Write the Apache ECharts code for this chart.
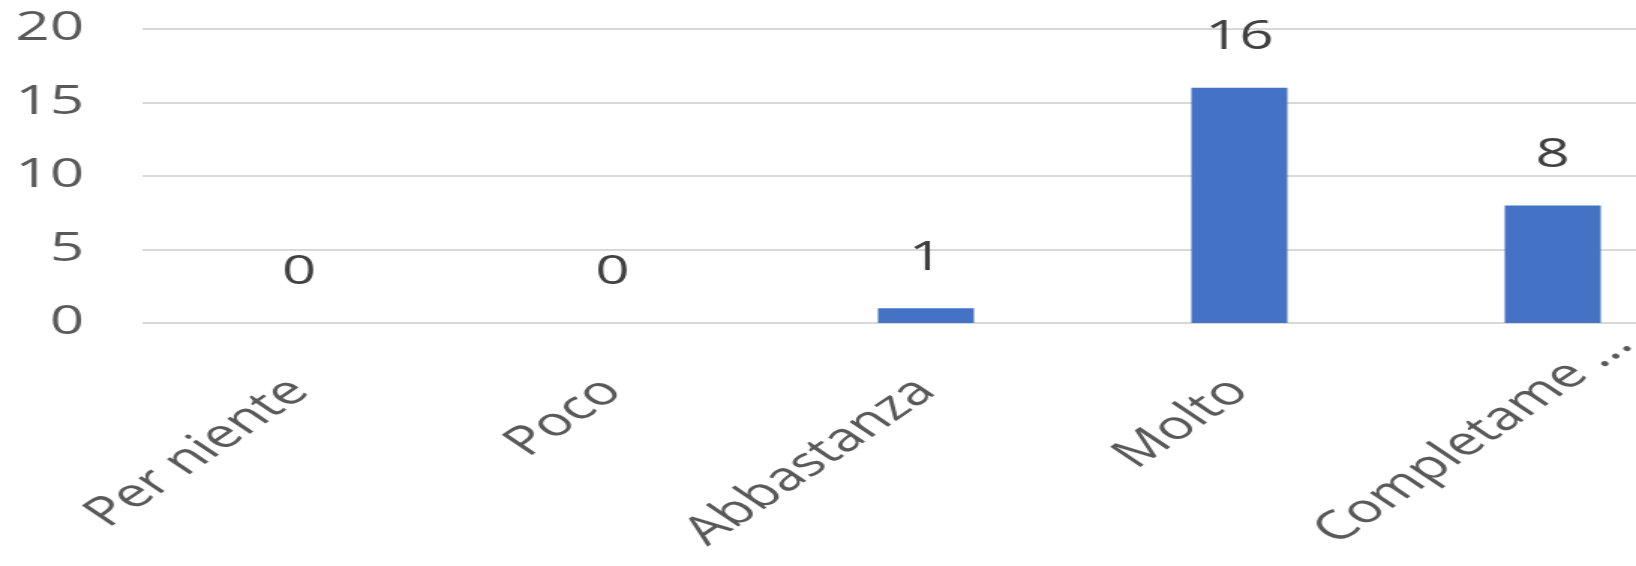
<!DOCTYPE html>
<html>
<head>
<meta charset="utf-8">
<script src="https://cdn.jsdelivr.net/npm/echarts@6/dist/echarts.min.js"></script>
<style>
  html, body { margin: 0; padding: 0; background: #ffffff; overflow: hidden; }
  #wrap { width: 1636px; height: 566px; overflow: hidden; position: relative; }
  #chart { width: 1200px; height: 566px; transform: scaleX(1.4995); transform-origin: 0 0; }
</style>
</head>
<body>
<div id="wrap"><div id="chart"></div></div>
<script>
const categories = ["Per niente", "Poco", "Abbastanza", "Molto", "Completamente"];
const values = [0, 0, 1, 16, 8];
const yTicks = [0, 5, 10, 15, 20];
const maxLabelChars = 10;

const chart = echarts.init(document.getElementById('chart'), null, { renderer: 'canvas' });
const font = '"Open Sans", "Noto Sans", sans-serif';
chart.setOption({
  animation: false,
  backgroundColor: '#ffffff',
  grid: { left: 95, top: 29, width: 1045, bottom: 243, containLabel: false, outerBoundsMode: 'none' },
  xAxis: {
    type: 'category',
    data: categories,
    axisLine: { show: false },
    axisTick: { show: false },
    axisLabel: {
      rotate: 45,
      interval: 0,
      margin: 62,
      color: '#595959',
      fontFamily: font,
      fontSize: 40,
      formatter: (v) => v.length > maxLabelChars + 1 ? '{s|' + v.slice(0, maxLabelChars) + ' ...}' : v,
      rich: {
        s: {
          color: '#595959',
          fontFamily: font,
          fontSize: 40,
          padding: [0, -66, 0, 0]
        }
      }
    }
  },
  yAxis: {
    type: 'value',
    min: yTicks[0],
    max: yTicks[yTicks.length - 1],
    interval: yTicks[1] - yTicks[0],
    axisLine: { show: false },
    axisTick: { show: false },
    splitLine: { lineStyle: { color: '#d9d9d9', width: 2 } },
    axisLabel: {
      margin: 39,
      color: '#595959',
      fontFamily: font,
      fontSize: 40
    }
  },
  series: [{
    type: 'bar',
    data: values,
    barWidth: 64,
    itemStyle: { color: '#4472C4' },
    label: {
      show: true,
      position: 'top',
      distance: 30,
      color: '#404040',
      fontFamily: font,
      fontSize: 40
    }
  }]
});
</script>
</body>
</html>
